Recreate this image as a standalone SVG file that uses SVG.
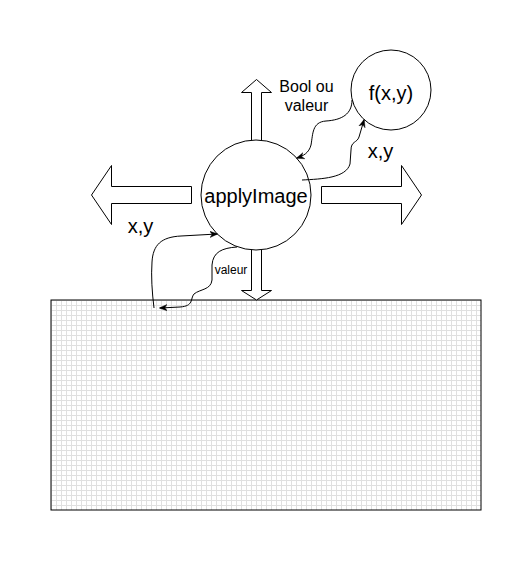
<svg xmlns="http://www.w3.org/2000/svg" width="531" height="561" viewBox="0 0 531 561">
<style>
  .shape { fill: #fff; stroke: #000; stroke-width: 1; }
  .conn { fill: none; stroke: #000; stroke-width: 1; }
  .t { font-family: "Liberation Sans", Arial, sans-serif; fill: #000; text-anchor: middle; }
</style>
<defs>
  <pattern id="grid" x="51" y="300" width="5" height="5" patternUnits="userSpaceOnUse">
    <path d="M0.5 0 V5 M0 0.5 H5" fill="none" stroke="#e0e0e0" stroke-width="1"/>
  </pattern>
  <marker id="arr" viewBox="0 0 10 10" refX="9" refY="5" markerWidth="8" markerHeight="8" markerUnits="userSpaceOnUse" orient="auto">
    <path d="M0,1 L10,5 L0,9 L3,5 Z" fill="#000" stroke="#000" stroke-width="0.5"/>
  </marker>
</defs>
<rect width="531" height="561" fill="#fff"/>

<g id="grid-area">
  <rect x="51" y="300" width="430" height="210" fill="url(#grid)" stroke="#000" stroke-width="1"/>
</g>

<g id="arrow-left">
  <polygon class="shape" points="91.5,195 111.5,165.5 111.5,186.5 191.5,186.5 191.5,203.5 111.5,203.5 111.5,224.5"/>
</g>
<g id="arrow-right">
  <polygon class="shape" points="321.5,186.5 401.5,186.5 401.5,165.5 421.5,195 401.5,224.5 401.5,203.5 321.5,203.5"/>
</g>
<g id="arrow-up">
  <polygon class="shape" points="256.5,79.5 271.5,92.5 261.5,92.5 261.5,145 251.5,145 251.5,92.5 241.5,92.5"/>
</g>
<g id="arrow-down">
  <polygon class="shape" points="251.5,245 261.5,245 261.5,290.5 271.5,290.5 256.5,300 241.5,290.5 251.5,290.5"/>
</g>

<g id="applyImage">
  <circle class="shape" cx="256" cy="195" r="55"/>
  <text class="t" x="256" y="203" font-size="20">applyImage</text>
</g>
<g id="fxy">
  <circle class="shape" cx="391" cy="90" r="40"/>
  <text class="t" x="391" y="100" font-size="20">f(x,y)</text>
</g>

<g id="connectors">
  <path class="conn" marker-end="url(#arr)" d="M352,100 C352,114 342,120 326,121 C312,122 313,134 311,145 C309,153 303,156 297,158"/>
  <path class="conn" marker-end="url(#arr)" d="M302,180 C322,179 346,178 350,164 L351,150 C351,141 357,143 359,137 L364,120"/>
  <path class="conn" marker-end="url(#arr)" d="M154,308 C152,292 151,276 152,262 C153,245 161,237 181,236 L217,234"/>
  <path class="conn" marker-end="url(#arr)" d="M237,247 C222,248 213,252 212,265 L212,280 C211,290 200,289 194,294 C190,299 194,306 180,307 L160,308"/>
</g>

<g id="labels">
  <text class="t" x="306.5" y="92" font-size="16">Bool ou</text>
  <text class="t" x="306.5" y="111" font-size="16">valeur</text>
  <text class="t" x="380.5" y="158" font-size="20">x,y</text>
  <text class="t" x="140.5" y="233" font-size="20">x,y</text>
  <text class="t" x="231" y="274" font-size="12">valeur</text>
</g>
</svg>
